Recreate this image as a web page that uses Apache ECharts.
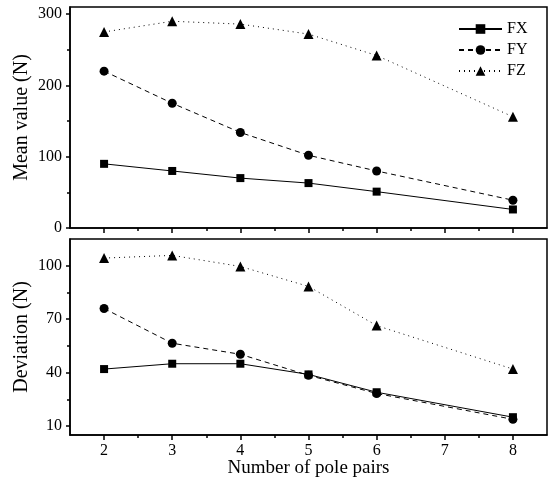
<!DOCTYPE html>
<html>
<head>
<meta charset="utf-8">
<script src="https://cdn.jsdelivr.net/npm/echarts@6/dist/echarts.min.js"></script>
<style>
  html, body { margin: 0; padding: 0; background: #fff; }
  #chart { width: 549px; height: 481px; }
</style>
</head>
<body>
<div id="chart"></div>
<script>
// pole pairs on the x axis
const polePairs = [2, 3, 4, 5, 6, 8];
const xTicks = [2, 3, 4, 5, 6, 7, 8];

// mean value (N)
const meanFX = [90, 80, 70, 63, 51, 26];
const meanFY = [220, 175, 134, 102, 80, 39];
const meanFZ = [275, 290, 286, 272, 242, 156];
const meanTicks = [0, 100, 200, 300];

// deviation (N)
const devFX = [42, 45, 45, 39, 29, 15];
const devFY = [76, 56.5, 50.3, 38.5, 28.3, 13.8];
const devFZ = [104.3, 105.8, 99.6, 88.4, 66.4, 42];
const devTicks = [10, 40, 70, 100];
const devMinorTicks = [25, 55, 85];

const font = 'Liberation Serif';
const black = '#000';

const pairs = (ys) => ys.map((y, i) => [polePairs[i], y]);

const styles = {
    FX: {symbol: 'rect', symbolSize: 8, type: 'solid'},
    FY: {symbol: 'circle', symbolSize: 9, type: [5, 4]},
    FZ: {symbol: 'triangle', symbolSize: 10, type: [1, 4]}
};

function makeSeries(name, ys, idx) {
    const s = styles[name];
    return {
        name: name,
        type: 'line',
        xAxisIndex: idx,
        yAxisIndex: idx,
        data: pairs(ys),
        symbol: s.symbol,
        symbolSize: s.symbolSize,
        itemStyle: {color: black},
        lineStyle: {color: black, width: 1, type: s.type},
        emphasis: {disabled: true},
        animation: false
    };
}

function xAxis(idx, withLabels) {
    return {
        type: 'value',
        gridIndex: idx,
        min: 1.5,
        max: 8.5,
        splitNumber: 7,
        axisLine: {show: true, onZero: false, lineStyle: {color: black, width: 1.5}},
        axisTick: {show: true, inside: false, length: 5, customValues: xTicks, lineStyle: {color: black, width: 1.5}},
        minorTick: {show: true, splitNumber: 2, length: 3, lineStyle: {color: black, width: 1.5}},
        axisLabel: {show: withLabels, customValues: xTicks, margin: 8, color: black, fontFamily: font, fontSize: 16},
        splitLine: {show: false},
        name: withLabels ? 'Number of pole pairs' : '',
        nameLocation: 'middle',
        nameGap: 24,
        nameMoveOverlap: false,
        nameTextStyle: {color: black, fontFamily: font, fontSize: 19}
    };
}

const option = {
    backgroundColor: '#fff',
    animation: false,
    grid: [
        {left: 70, right: 2, top: 7, height: 221, show: true, borderColor: black, borderWidth: 1.5, outerBoundsMode: 'none', containLabel: false},
        {left: 70, right: 2, top: 239, height: 196, show: true, borderColor: black, borderWidth: 1.5, outerBoundsMode: 'none', containLabel: false}
    ],
    legend: {
        orient: 'vertical',
        left: 458,
        top: 21,
        padding: 0,
        itemWidth: 43,
        itemHeight: 12,
        itemGap: 5,
        data: ['FX', 'FY', 'FZ'],
        textStyle: {color: black, fontFamily: font, fontSize: 16}
    },
    xAxis: [xAxis(0, false), xAxis(1, true)],
    yAxis: [
        {
            type: 'value',
            gridIndex: 0,
            min: 0,
            max: 310,
            interval: 100,
            axisLine: {show: true, lineStyle: {color: black, width: 1.5}},
            axisTick: {show: true, inside: false, length: 4, customValues: meanTicks, lineStyle: {color: black, width: 1.5}},
            minorTick: {show: true, splitNumber: 2, length: 3, lineStyle: {color: black, width: 1.5}},
            axisLabel: {customValues: meanTicks, margin: 8, color: black, fontFamily: font, fontSize: 16},
            splitLine: {show: false},
            name: 'Mean value (N)',
            nameLocation: 'middle',
            nameGap: 38,
            nameMoveOverlap: false,
            nameTextStyle: {color: black, fontFamily: font, fontSize: 20}
        },
        {
            type: 'value',
            gridIndex: 1,
            min: 5,
            max: 115,
            axisLine: {show: true, lineStyle: {color: black, width: 1.5}},
            axisTick: {show: true, inside: false, length: 4, customValues: devTicks, lineStyle: {color: black, width: 1.5}},
            axisLabel: {customValues: devTicks, margin: 8, color: black, fontFamily: font, fontSize: 16},
            splitLine: {show: false},
            name: 'Deviation (N)',
            nameLocation: 'middle',
            nameGap: 38,
            nameMoveOverlap: false,
            nameTextStyle: {color: black, fontFamily: font, fontSize: 20}
        },
        {
            // minor ticks of the deviation axis
            type: 'value',
            gridIndex: 1,
            position: 'left',
            offset: 0,
            min: 5,
            max: 115,
            axisLine: {show: false},
            axisTick: {show: true, inside: false, length: 3, customValues: devMinorTicks, lineStyle: {color: black, width: 1.5}},
            axisLabel: {show: false},
            splitLine: {show: false}
        }
    ],
    series: [
        makeSeries('FX', meanFX, 0),
        makeSeries('FY', meanFY, 0),
        makeSeries('FZ', meanFZ, 0),
        makeSeries('FX', devFX, 1),
        makeSeries('FY', devFY, 1),
        makeSeries('FZ', devFZ, 1)
    ]
};

const chart = echarts.init(document.getElementById('chart'), null, {renderer: 'canvas'});
chart.setOption(option);
</script>
</body>
</html>
